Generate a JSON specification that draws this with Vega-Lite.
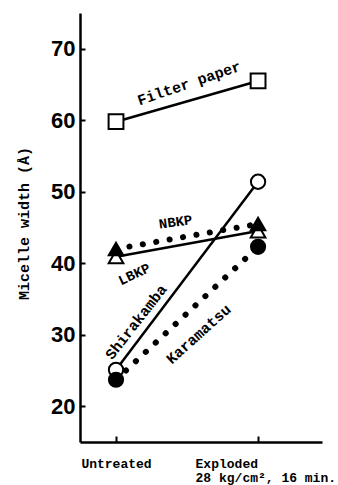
{
  "$schema": "https://vega.github.io/schema/vega-lite/v6.json",
  "width": 242,
  "height": 429,
  "autosize": "none",
  "padding": {"left": 80, "top": 13, "right": 16, "bottom": 43},
  "background": "white",
  "config": {
    "view": {"stroke": null},
    "axis": {"grid": false, "domainColor": "black", "tickColor": "black", "labelColor": "black", "titleColor": "black"}
  },
  "data": {
    "values": [
      {"series": "Filter paper", "x": 0, "value": 59.8},
      {"series": "Filter paper", "x": 1, "value": 65.5},
      {"series": "LBKP", "x": 0, "value": 40.9},
      {"series": "LBKP", "x": 1, "value": 44.5},
      {"series": "NBKP", "x": 0, "value": 42.0},
      {"series": "NBKP", "x": 1, "value": 45.5},
      {"series": "Shirakamba", "x": 0, "value": 25.1},
      {"series": "Shirakamba", "x": 1, "value": 51.4},
      {"series": "Karamatsu", "x": 0, "value": 23.7},
      {"series": "Karamatsu", "x": 1, "value": 42.3}
    ]
  },
  "encoding": {
    "x": {
      "field": "x", "type": "quantitative",
      "scale": {"domain": [-0.2535, 1.45], "nice": false, "zero": false},
      "axis": {
        "title": null, "values": [0, 1], "tickSize": -6, "tickWidth": 2, "domainWidth": 2.5,
        "labelFont": "Liberation Mono", "labelFontWeight": "bold", "labelFontSize": 13,
        "labelPadding": 21, "labelLineHeight": 14,
        "labelExpr": "datum.value == 0 ? 'Untreated' : ['Exploded', '28 kg/cm², 16 min.']",
        "labelAlign": {"condition": {"test": "datum.value == 1", "value": "left"}, "value": "center"},
        "labelOffset": {"condition": {"test": "datum.value == 1", "value": -63}, "value": 0},
        "labelOverlap": false, "labelFlush": false, "labelBound": false
      }
    },
    "y": {
      "field": "value", "type": "quantitative",
      "scale": {"domain": [15, 75], "nice": false, "zero": false},
      "axis": {
        "title": "Micelle width (Å)", "values": [20, 30, 40, 50, 60, 70],
        "tickSize": -5, "tickWidth": 2, "domainWidth": 2.5,
        "labelFont": "Liberation Sans", "labelFontWeight": "bold", "labelFontSize": 22, "labelPadding": 10,
        "titleFont": "Liberation Mono", "titleFontSize": 15, "titleFontWeight": "bold",
        "titleX": -57, "titleY": 210, "titleAngle": 270, "titleAlign": "center", "titleBaseline": "middle"
      }
    }
  },
  "layer": [
    {
      "transform": [{"filter": {"field": "series", "oneOf": ["Filter paper", "LBKP", "Shirakamba"]}}],
      "mark": {"type": "line", "stroke": "black", "strokeWidth": 2.5},
      "encoding": {"detail": {"field": "series", "type": "nominal"}}
    },
    {
      "transform": [{"filter": {"field": "series", "oneOf": ["NBKP", "Karamatsu"]}}],
      "mark": {"type": "line", "stroke": "black", "strokeWidth": 6, "strokeCap": "round", "strokeDash": [0.1, 13.5]},
      "encoding": {"detail": {"field": "series", "type": "nominal"}}
    },
    {
      "mark": {"type": "point", "filled": true, "stroke": "black", "strokeWidth": 2, "opacity": 1},
      "encoding": {
        "shape": {"field": "series", "type": "nominal", "legend": null,
          "scale": {"domain": ["Filter paper", "LBKP", "NBKP", "Shirakamba", "Karamatsu"], "range": ["square", "triangle-up", "triangle-up", "circle", "circle"]}},
        "fill": {"field": "series", "type": "nominal", "legend": null,
          "scale": {"domain": ["Filter paper", "LBKP", "NBKP", "Shirakamba", "Karamatsu"], "range": ["white", "white", "black", "white", "black"]}},
        "size": {"field": "series", "type": "nominal", "legend": null,
          "scale": {"domain": ["Filter paper", "LBKP", "NBKP", "Shirakamba", "Karamatsu"], "range": [220, 200, 200, 180, 190]}}
      }
    },
    {
      "data": {"values": [{"label": "Filter paper", "x": 0.514, "value": 65.2}]},
      "mark": {"type": "text", "font": "Liberation Mono", "fontWeight": "bold", "fontSize": 15, "angle": -19, "align": "center", "baseline": "middle", "color": "black"},
      "encoding": {"text": {"field": "label"}}
    },
    {
      "data": {"values": [{"label": "NBKP", "x": 0.42, "value": 45.7}]},
      "mark": {"type": "text", "font": "Liberation Mono", "fontWeight": "bold", "fontSize": 14, "angle": -8, "align": "center", "baseline": "middle", "color": "black"},
      "encoding": {"text": {"field": "label"}}
    },
    {
      "data": {"values": [{"label": "LBKP", "x": 0.13, "value": 38.4}]},
      "mark": {"type": "text", "font": "Liberation Mono", "fontWeight": "bold", "fontSize": 14, "angle": -25, "align": "center", "baseline": "middle", "color": "black"},
      "encoding": {"text": {"field": "label"}}
    },
    {
      "data": {"values": [{"label": "Shirakamba", "x": 0.14, "value": 31.8}]},
      "mark": {"type": "text", "font": "Liberation Mono", "fontWeight": "bold", "fontSize": 15, "angle": -52, "align": "center", "baseline": "middle", "color": "black"},
      "encoding": {"text": {"field": "label"}}
    },
    {
      "data": {"values": [{"label": "Karamatsu", "x": 0.58, "value": 30.1}]},
      "mark": {"type": "text", "font": "Liberation Mono", "fontWeight": "bold", "fontSize": 15, "angle": -42, "align": "center", "baseline": "middle", "color": "black"},
      "encoding": {"text": {"field": "label"}}
    }
  ]
}
